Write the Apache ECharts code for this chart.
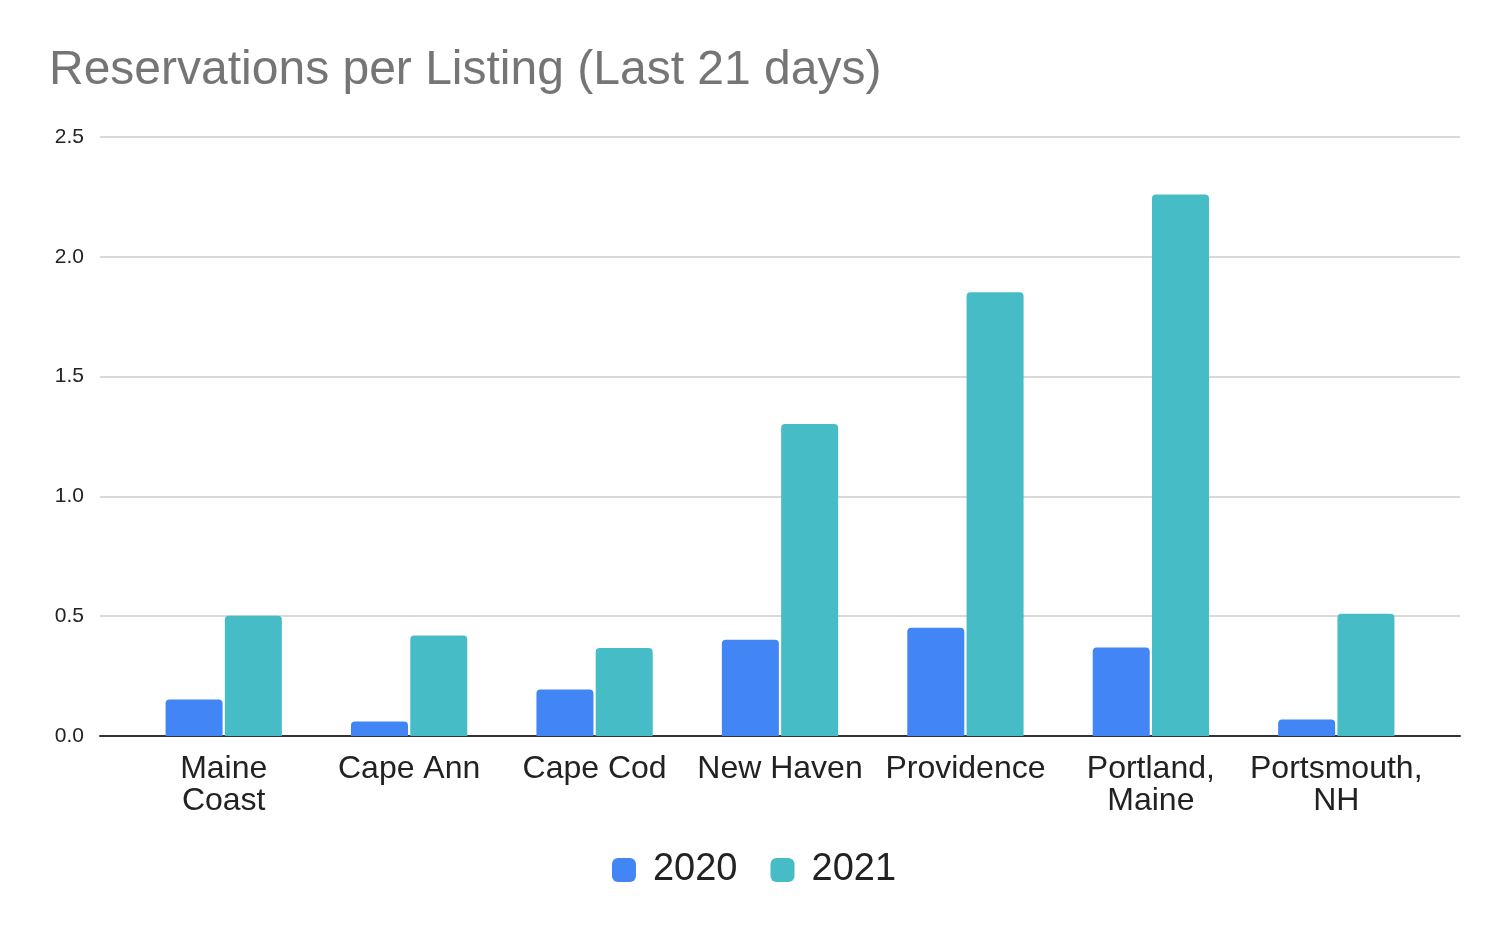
<!DOCTYPE html>
<html><head><meta charset="utf-8">
<script src="https://cdn.jsdelivr.net/npm/echarts@6/dist/echarts.min.js"></script>
<style>html,body{margin:0;padding:0;background:#fff}#c{width:1508px;height:934px}</style>
</head><body><div id="c"></div>
<script>
var categories = ["Maine\nCoast", "Cape Ann", "Cape Cod", "New Haven", "Providence", "Portland,\nMaine", "Portsmouth,\nNH"];
var values2020 = [0.152, 0.06, 0.194, 0.402, 0.452, 0.369, 0.069];
var values2021 = [0.502, 0.419, 0.367, 1.302, 1.852, 2.26, 0.51];
var seriesNames = ["2020", "2021"];
var yTicks = { min: 0, max: 2.5, interval: 0.5 };

var font = "'Liberation Sans', Arial, sans-serif";
var chart = echarts.init(document.getElementById('c'));
chart.setOption({
  animation: false,
  title: {
    text: "Reservations per Listing (Last 21 days)",
    left: 44, top: 42,
    textStyle: { fontFamily: font, fontSize: 48, fontWeight: 'normal', color: '#757575' }
  },
  legend: {
    data: seriesNames,
    top: 846, left: 'center',
    icon: 'roundRect', itemWidth: 24, itemHeight: 24, itemGap: 33,
    textStyle: { fontFamily: font, fontSize: 38, color: '#222', padding: [0, 0, 0, 12] }
  },
  grid: [
    { left: 100, right: 48, top: 137, bottom: 198 },
    { left: 131, right: 79, top: 137, bottom: 198 }
  ],
  xAxis: [
    { gridIndex: 0, type: 'value', min: 0, max: 1, axisLine: { show: true, onZero: false, lineStyle: { color: '#333', width: 2 } },
      axisTick: { show: false }, axisLabel: { show: false }, splitLine: { show: false } },
    { gridIndex: 1, type: 'category', data: categories,
      axisLine: { show: false }, axisTick: { show: false },
      axisLabel: { fontFamily: font, fontSize: 32, color: '#222', lineHeight: 32, margin: 17, interval: 0 } }
  ],
  yAxis: [
    { gridIndex: 0, type: 'value', min: yTicks.min, max: yTicks.max, interval: yTicks.interval,
      axisLine: { show: false }, axisTick: { show: false },
      axisLabel: { fontFamily: font, fontSize: 21, color: '#222', margin: 16, formatter: function (v) { return v.toFixed(1); } },
      splitLine: { lineStyle: { color: '#cccccc', width: 1.5 } } },
    { gridIndex: 1, type: 'value', min: yTicks.min, max: yTicks.max, interval: yTicks.interval, show: false, splitLine: { show: false } }
  ],
  series: [
    { name: seriesNames[0], type: 'bar', xAxisIndex: 1, yAxisIndex: 1, data: values2020,
      barWidth: 57, barGap: '4%', itemStyle: { color: '#4285f4', borderRadius: [4, 4, 0, 0] } },
    { name: seriesNames[1], type: 'bar', xAxisIndex: 1, yAxisIndex: 1, data: values2021,
      barWidth: 57, barGap: '4%', itemStyle: { color: '#46bdc6', borderRadius: [4, 4, 0, 0] } }
  ]
});
</script></body></html>
